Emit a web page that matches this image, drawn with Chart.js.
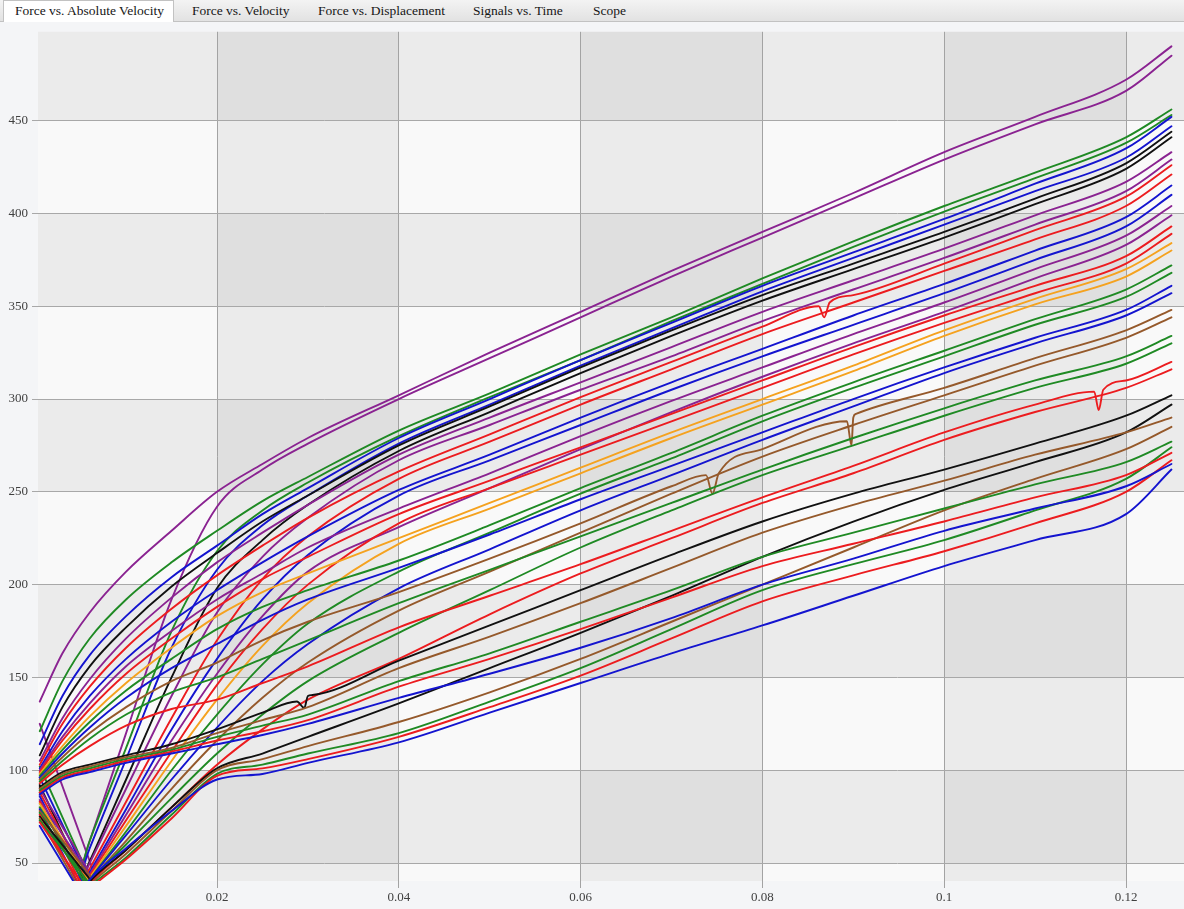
<!DOCTYPE html>
<html><head><meta charset="utf-8">
<script src="https://cdn.jsdelivr.net/npm/chart.js@4.4.1/dist/chart.umd.min.js"></script>
<style>
html,body{margin:0;padding:0;background:#f4f5f7;width:1184px;height:909px;overflow:hidden;}
#tabs{position:absolute;z-index:2;left:0;top:0;width:1184px;height:21px;background:linear-gradient(#f3f3f3,#e2e2e2);border-bottom:1px solid #c2c2c2;font-family:"Liberation Serif","Times New Roman",serif;font-size:13.5px;color:#161616;}
.tab{position:absolute;top:3px;white-space:nowrap;line-height:15px;}
.tab.active{top:0;height:22px;width:171px;background:#fff;border:1px solid #c2c2c2;border-bottom:none;box-sizing:border-box;line-height:20px;padding-left:11px;}
#wrap{position:absolute;z-index:1;left:0;top:20px;width:1184px;height:889px;}
</style></head><body>
<div id="tabs">
  <div class="tab active" style="left:3px;">Force vs. Absolute Velocity</div>
  <div class="tab" style="left:192px;">Force vs. Velocity</div>
  <div class="tab" style="left:318px;">Force vs. Displacement</div>
  <div class="tab" style="left:473px;">Signals vs. Time</div>
  <div class="tab" style="left:593px;">Scope</div>
</div>
<div id="wrap"><canvas id="c" width="1184" height="889"></canvas></div>
<script>
// ---- data (absolute velocity grid, shared by every curve) ----
const xGrid = [0.0005,0.003,0.006,0.01,0.015,0.02,0.025,0.03,0.04,0.05,0.06,0.07,0.08,0.09,0.1,0.11,0.12,0.125];
const xTicks = [0.02,0.04,0.06,0.08,0.1,0.12];
const xTickLabels = ['0.02','0.04','0.06','0.08','0.1','0.12'];
const yTicks = [50,100,150,200,250,300,350,400,450];

const PURPLE='#8a2391', GREEN='#1f8a24', BLUE='#1414cf', BLACK='#111111', RED='#ec1c1f', ORANGE='#f5a21f', BROWN='#95592b';
const pairColors = [PURPLE,GREEN,BLUE,BLACK,PURPLE,RED,BLUE,PURPLE,RED,ORANGE,GREEN,BLUE,BROWN,GREEN,RED,BLACK,BROWN,GREEN,RED,BLUE];

// descending low-velocity branch of each pair: force at left edge, x where it reaches force 20 (below view)
const tailStart = [125,102,96,92,90,88,86,84,83,82,80,79,78,77,76,75,74,73,72,70];
const tailEndX  = [0.0083,0.008,0.008,0.0074,0.009,0.008,0.0072,0.0091,0.007,0.0086,0.0082,0.0067,0.0097,0.008,0.007,0.0095,0.0067,0.009,0.0078,0.0067];
const tailEndY  = 20;

// "A" curves (start at left edge) and "B" curves (rise from below the axis)
const a01=[137,163,185,207,229,250,265,279,302,325,347,369,390,411,433,452,472,490];
const b01=[20,20,62,120,192,242,262,276,300,322,344,366,387,408,429,448,466,485];
const a02=[121,148,171,192,212,229,245,258,283,303,324,344,365,385,404,422,441,456];
const b02=[20,20,62,112,175,218,240,255,280,301,321,342,362,382,401,419,438,453];
const a03=[114,140,162,183,204,221,238,252,279,300,321,341,361,379,397,416,435,452];
const b03=[20,20,58,106,166,208,232,248,276,297,318,338,358,376,394,412,430,447];
const a04=[108,134,156,177,199,217,234,248,275,296,317,337,356,373,390,408,427,444];
const b04=[20,20,51,95,150,198,224,243,272,293,314,334,353,370,387,405,424,441];
const a05=[105,128,149,171,193,212,228,243,270,290,309,328,347,364,381,399,417,433];
const b05=[20,20,50,90,140,185,215,236,267,286,305,323,342,359,376,394,412,429];
const a06=[103,125,145,166,187,205,221,236,261,281,301,320,339,356,373,391,409,426];
const b06=[20,20,47,83,128,170,203,226,257,277,297,316,335,352,369,386,404,421];
const a07=[101,121,140,160,180,197,212,226,251,270,290,309,327,345,362,380,398,415];
const b07=[20,20,45,79,122,160,192,216,248,267,286,305,323,340,357,375,393,410];
const a08=[100,118,136,156,175,192,206,220,241,260,280,299,317,335,352,370,388,404];
const b08=[20,20,44,76,116,152,183,207,231,252,273,293,312,330,347,365,383,399];
const a09=[99,116,133,152,171,188,203,215,238,256,274,292,310,328,345,361,377,393];
const b09=[20,20,43,73,110,146,176,200,233,252,270,288,306,324,341,357,373,389];
const a10=[98,113,129,147,166,183,196,206,225,244,263,282,300,318,337,354,370,384];
const b10=[20,20,42,70,105,138,167,190,222,241,260,279,297,315,334,351,366,380];
const a11=[97,111,126,143,160,176,188,197,213,232,252,271,291,309,326,343,359,372];
const b11=[20,20,41,67,100,130,157,179,207,228,249,268,288,306,323,340,355,368];
const a12=[96,109,123,139,155,168,181,192,209,227,246,264,282,300,317,333,348,361];
const b12=[20,20,41,65,95,123,148,168,198,219,240,259,278,296,314,330,345,357];
const a13=[95,107,120,134,148,158,170,180,196,214,233,253,273,290,306,322,337,348];
const b13=[20,20,40,62,90,116,139,158,186,207,228,249,269,286,302,318,333,344];
const a14=[94,105,117,130,142,150,160,170,190,208,226,244,262,279,295,310,323,334];
const b14=[20,20,40,60,85,109,130,148,174,197,220,240,259,275,291,306,319,330];
const a15=[93,103,113,124,133,138,147,156,177,194,211,229,247,264,282,297,310,320];
const b15=[20,20,39,57,80,103,122,138,160,184,206,225,244,260,278,293,306,316];
const a16=[91,99,103,108,114,122,131,140,159,178,197,216,234,249,262,276,291,302];
const b16=[20,20,40,57,80,101,109,118,136,155,174,194,215,234,251,266,282,297];
const a17=[90,98,102,107,112,120,127,134,155,172,190,209,228,243,256,270,282,290];
const b17=[20,20,38,55,78,100,106,113,126,142,160,180,200,220,240,257,273,285];
const a18=[89,97,101,106,111,118,124,130,148,163,180,197,215,228,241,254,266,277];
const b18=[20,20,37,53,76,98,103,109,120,137,155,176,197,211,224,240,257,274];
const a19=[88,96,100,105,110,116,121,127,145,160,176,193,210,222,234,247,259,271];
const b19=[20,20,36,52,74,97,101,106,118,134,151,171,191,205,218,233,250,267];
const a20=[87,95,99,104,109,114,119,125,139,152,166,182,200,214,229,241,253,265];
const b20=[20,20,41,58,78,95,98,104,115,131,147,163,178,194,210,224,238,262];

// isolated glitches: which curve, velocity, force
const glitchCurve = ['a13','a13','a13','a13','a13','a13','a06','a06','a06','a15','a15','a15','a16','a16','a16'];
const glitchX     = [0.0738,0.0745,0.0752,0.0893,0.0898,0.0903,0.0862,0.0868,0.0874,0.1165,0.117,0.1175,0.0288,0.0296,0.0305];
const glitchY     = [259,249,260,288,275,292,350,344,352,304,294,305,137,133.5,140.5];

const curves={a01,b01,a02,b02,a03,b03,a04,b04,a05,b05,a06,b06,a07,b07,a08,b08,a09,b09,a10,b10,
  a11,b11,a12,b12,a13,b13,a14,b14,a15,b15,a16,b16,a17,b17,a18,b18,a19,b19,a20,b20};

function pts(name){
  const p=curves[name].map((y,i)=>({x:xGrid[i],y}));
  glitchCurve.forEach((c,j)=>{ if(c===name) p.push({x:glitchX[j],y:glitchY[j]}); });
  p.sort((u,v)=>u.x-v.x);
  return p;
}
const datasets=[];
for(let k=19;k>=0;k--){
  const id=String(k+1).padStart(2,'0');
  datasets.push({data:[{x:xGrid[0],y:tailStart[k]},{x:tailEndX[k],y:tailEndY}],borderColor:pairColors[k],tension:0});
  datasets.push({data:pts('b'+id),borderColor:pairColors[k]});
  datasets.push({data:pts('a'+id),borderColor:pairColors[k]});
}
datasets.forEach(d=>{d.showLine=true;d.pointRadius=0;d.borderWidth=1.9;d.fill=false;
  if(d.tension===undefined){d.cubicInterpolationMode='monotone';}});

const bands={id:'bands',beforeDraw(chart){
  const {ctx,chartArea:ca,scales:{x,y}}=chart;
  ctx.save();
  ctx.beginPath();ctx.rect(ca.left,ca.top,ca.width,ca.height);ctx.clip();
  const rowStep=yTicks[1]-yTicks[0], colStep=xTicks[1]-xTicks[0];
  for(let r=0;r<11;r++){
    const y0=y.getPixelForValue(r*rowStep), y1=y.getPixelForValue((r+1)*rowStep);
    for(let c=0;c<8;c++){
      const x0=x.getPixelForValue(c*colStep), x1=x.getPixelForValue((c+1)*colStep);
      const g=(r%2)+(c%2);
      ctx.fillStyle=g===0?'#f9f9f9':(g===1?'#ebebeb':'#dfdfdf');
      ctx.fillRect(x0,y1,x1-x0,y0-y1);
    }
  }
  ctx.restore();
}};

const font={family:'"Liberation Serif","Times New Roman",serif',size:13};
new Chart(document.getElementById('c'),{
  type:'scatter',
  data:{datasets},
  plugins:[bands],
  options:{
    responsive:false,animation:false,devicePixelRatio:1,
    layout:{padding:{top:10,left:0,right:0,bottom:0}},
    plugins:{legend:{display:false},tooltip:{enabled:false}},
    elements:{line:{borderCapStyle:'round',borderJoinStyle:'round'}},
    scales:{
      x:{type:'linear',min:0.000308,max:0.12638,
        afterBuildTicks:s=>{s.ticks=xTicks.map(v=>({value:v}));},
        afterFit:s=>{s.height=28;},
        grid:{color:'#a3a3a3',lineWidth:1,tickLength:7},
        border:{display:false},
        ticks:{color:'#404040',font,padding:2,autoSkip:false,maxRotation:0,
          callback:(v,i)=>xTickLabels[i]}},
      y:{type:'linear',min:40.32,max:497.85,
        afterBuildTicks:s=>{s.ticks=yTicks.map(v=>({value:v}));},
        afterFit:s=>{s.width=38;},
        grid:{color:'#a8a8a8',lineWidth:1,tickLength:6},
        border:{display:false},
        ticks:{color:'#404040',font,padding:4,callback:(v,i)=>String(yTicks[i])}}
    }
  }
});
</script>
</body></html>
